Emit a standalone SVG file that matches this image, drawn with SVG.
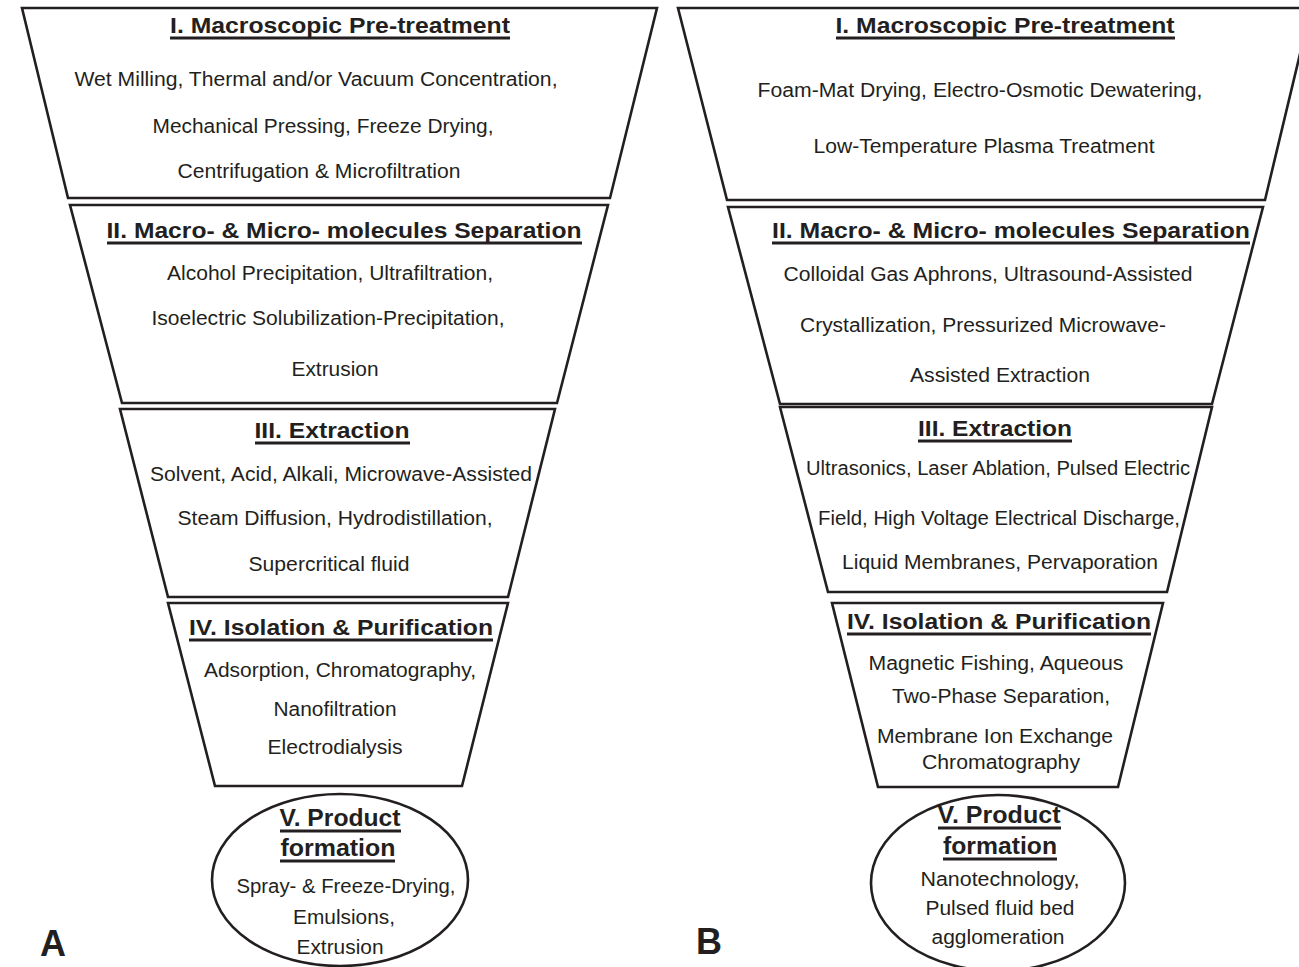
<svg xmlns="http://www.w3.org/2000/svg" width="1299" height="967" viewBox="0 0 1299 967">
<style>
.shape{fill:#fff;stroke:#231f20;stroke-width:2.6;stroke-linejoin:miter}
text{font-family:"Liberation Sans",Arial,sans-serif;fill:#231f20;text-anchor:middle}
.t{font-size:19.5px}
.h{font-size:22.5px;font-weight:bold}
.p{font-size:23.5px;font-weight:bold}
.u{stroke:#231f20;stroke-width:2.8}
.lbl{font-size:36px;font-weight:bold;text-anchor:start}
</style>
<rect width="1299" height="967" fill="#fff"/>
<g id="A-stage1">
<polygon class="shape" points="22,8 657,8 610,198 68,198"/>
<text class="h" x="340" y="33" textLength="340" lengthAdjust="spacingAndGlyphs">I. Macroscopic Pre-treatment</text>
<line class="u" x1="170" y1="38" x2="510" y2="38"/>
<text class="t" x="316" y="86" textLength="483" lengthAdjust="spacingAndGlyphs">Wet Milling, Thermal and/or Vacuum Concentration,</text>
<text class="t" x="323" y="133" textLength="341" lengthAdjust="spacingAndGlyphs">Mechanical Pressing, Freeze Drying,</text>
<text class="t" x="319" y="178" textLength="283" lengthAdjust="spacingAndGlyphs">Centrifugation &amp; Microfiltration</text>
</g>
<g id="A-stage2">
<polygon class="shape" points="70,205 608,205 557,403 122,403"/>
<text class="h" x="344" y="238" textLength="475" lengthAdjust="spacingAndGlyphs">II. Macro- &amp; Micro- molecules Separation</text>
<line class="u" x1="107" y1="243" x2="582" y2="243"/>
<text class="t" x="330" y="280" textLength="326" lengthAdjust="spacingAndGlyphs">Alcohol Precipitation, Ultrafiltration,</text>
<text class="t" x="328" y="325" textLength="353" lengthAdjust="spacingAndGlyphs">Isoelectric Solubilization-Precipitation,</text>
<text class="t" x="335" y="376" textLength="87" lengthAdjust="spacingAndGlyphs">Extrusion</text>
</g>
<g id="A-stage3">
<polygon class="shape" points="120,409 555,409 508,597 168,597"/>
<text class="h" x="332" y="438" textLength="155" lengthAdjust="spacingAndGlyphs">III. Extraction</text>
<line class="u" x1="255" y1="443" x2="410" y2="443"/>
<text class="t" x="341" y="481" textLength="382" lengthAdjust="spacingAndGlyphs">Solvent, Acid, Alkali, Microwave-Assisted</text>
<text class="t" x="335" y="525" textLength="315" lengthAdjust="spacingAndGlyphs">Steam Diffusion, Hydrodistillation,</text>
<text class="t" x="329" y="571" textLength="161" lengthAdjust="spacingAndGlyphs">Supercritical fluid</text>
</g>
<g id="A-stage4">
<polygon class="shape" points="168,603 508,603 462,786 215,786"/>
<text class="h" x="341" y="635" textLength="304" lengthAdjust="spacingAndGlyphs">IV. Isolation &amp; Purification</text>
<line class="u" x1="189" y1="640" x2="493" y2="640"/>
<text class="t" x="340" y="677" textLength="272" lengthAdjust="spacingAndGlyphs">Adsorption, Chromatography,</text>
<text class="t" x="335" y="716" textLength="123" lengthAdjust="spacingAndGlyphs">Nanofiltration</text>
<text class="t" x="335" y="754" textLength="135" lengthAdjust="spacingAndGlyphs">Electrodialysis</text>
</g>
<g id="A-stage5">
<ellipse class="shape" cx="340" cy="880" rx="128" ry="86"/>
<text class="p" x="340" y="826" textLength="121" lengthAdjust="spacingAndGlyphs">V. Product</text>
<line class="u" x1="280" y1="831" x2="401" y2="831"/>
<text class="p" x="338" y="856" textLength="115" lengthAdjust="spacingAndGlyphs">formation</text>
<line class="u" x1="280" y1="861" x2="395" y2="861"/>
<text class="t" x="346" y="893" textLength="219" lengthAdjust="spacingAndGlyphs">Spray- &amp; Freeze-Drying,</text>
<text class="t" x="344" y="924" textLength="102" lengthAdjust="spacingAndGlyphs">Emulsions,</text>
<text class="t" x="340" y="954" textLength="87" lengthAdjust="spacingAndGlyphs">Extrusion</text>
</g>
<g id="B-stage1">
<polygon class="shape" points="678,8 1311,8 1265,200 727,200"/>
<text class="h" x="1005" y="33" textLength="339" lengthAdjust="spacingAndGlyphs">I. Macroscopic Pre-treatment</text>
<line class="u" x1="836" y1="38" x2="1175" y2="38"/>
<text class="t" x="980" y="97" textLength="445" lengthAdjust="spacingAndGlyphs">Foam-Mat Drying, Electro-Osmotic Dewatering,</text>
<text class="t" x="984" y="153" textLength="341" lengthAdjust="spacingAndGlyphs">Low-Temperature Plasma Treatment</text>
</g>
<g id="B-stage2">
<polygon class="shape" points="728,207 1263,207 1212,404 780,404"/>
<text class="h" x="1011" y="238" textLength="478" lengthAdjust="spacingAndGlyphs">II. Macro- &amp; Micro- molecules Separation</text>
<line class="u" x1="772" y1="243" x2="1250" y2="243"/>
<text class="t" x="988" y="281" textLength="409" lengthAdjust="spacingAndGlyphs">Colloidal Gas Aphrons, Ultrasound-Assisted</text>
<text class="t" x="983" y="332" textLength="366" lengthAdjust="spacingAndGlyphs">Crystallization, Pressurized Microwave-</text>
<text class="t" x="1000" y="382" textLength="180" lengthAdjust="spacingAndGlyphs">Assisted Extraction</text>
</g>
<g id="B-stage3">
<polygon class="shape" points="780,407 1212,407 1167,592 828,592"/>
<text class="h" x="995" y="436" textLength="154" lengthAdjust="spacingAndGlyphs">III. Extraction</text>
<line class="u" x1="918" y1="441" x2="1072" y2="441"/>
<text class="t" x="998" y="475" textLength="384" lengthAdjust="spacingAndGlyphs">Ultrasonics, Laser Ablation, Pulsed Electric</text>
<text class="t" x="999" y="525" textLength="362" lengthAdjust="spacingAndGlyphs">Field, High Voltage Electrical Discharge,</text>
<text class="t" x="1000" y="569" textLength="316" lengthAdjust="spacingAndGlyphs">Liquid Membranes, Pervaporation</text>
</g>
<g id="B-stage4">
<polygon class="shape" points="832,603 1163,603 1118,787 878,787"/>
<text class="h" x="999" y="629" textLength="304" lengthAdjust="spacingAndGlyphs">IV. Isolation &amp; Purification</text>
<line class="u" x1="847" y1="634" x2="1151" y2="634"/>
<text class="t" x="996" y="670" textLength="255" lengthAdjust="spacingAndGlyphs">Magnetic Fishing, Aqueous</text>
<text class="t" x="1001" y="703" textLength="218" lengthAdjust="spacingAndGlyphs">Two-Phase Separation,</text>
<text class="t" x="995" y="743" textLength="236" lengthAdjust="spacingAndGlyphs">Membrane Ion Exchange</text>
<text class="t" x="1001" y="769" textLength="158" lengthAdjust="spacingAndGlyphs">Chromatography</text>
</g>
<g id="B-stage5">
<ellipse class="shape" cx="998" cy="883" rx="127" ry="88"/>
<text class="p" x="999" y="823" textLength="123" lengthAdjust="spacingAndGlyphs">V. Product</text>
<line class="u" x1="938" y1="828" x2="1061" y2="828"/>
<text class="p" x="1000" y="854" textLength="114" lengthAdjust="spacingAndGlyphs">formation</text>
<line class="u" x1="943" y1="859" x2="1057" y2="859"/>
<text class="t" x="1000" y="886" textLength="159" lengthAdjust="spacingAndGlyphs">Nanotechnology,</text>
<text class="t" x="1000" y="915" textLength="149" lengthAdjust="spacingAndGlyphs">Pulsed fluid bed</text>
<text class="t" x="998" y="944" textLength="133" lengthAdjust="spacingAndGlyphs">agglomeration</text>
</g>
<g id="panel-labels">
<text class="lbl" x="40" y="956">A</text>
<text class="lbl" x="696" y="954">B</text>
</g>
<g id="connectors"></g>
</svg>
